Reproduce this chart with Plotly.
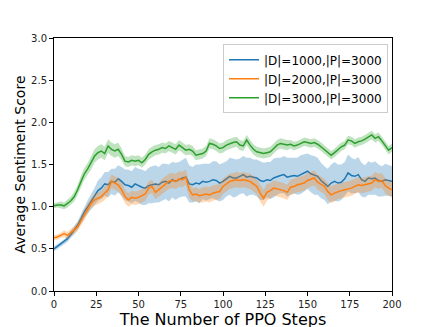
import plotly.graph_objects as go

# PPO steps (every 2 steps)
steps = list(range(0, 201, 2))

# |D|=1000,|P|=3000
d1000_mean = [0.50, 0.53, 0.55, 0.58, 0.62, 0.67, 0.72, 0.78, 0.86, 0.94,
              1.00, 1.06, 1.12, 1.19, 1.22, 1.27, 1.26, 1.30, 1.29, 1.33,
              1.30, 1.26, 1.25, 1.23, 1.27, 1.25, 1.23, 1.22, 1.25, 1.26,
              1.27, 1.26, 1.29, 1.30, 1.28, 1.32, 1.30, 1.32, 1.34, 1.35,
              1.27, 1.26, 1.28, 1.27, 1.30, 1.29, 1.30, 1.32, 1.31, 1.28,
              1.30, 1.33, 1.36, 1.34, 1.34, 1.36, 1.38, 1.35, 1.36, 1.35,
              1.34, 1.31, 1.30, 1.32, 1.31, 1.34, 1.36, 1.37, 1.38, 1.35,
              1.36, 1.37, 1.36, 1.38, 1.40, 1.42, 1.39, 1.37, 1.36, 1.31,
              1.28, 1.24, 1.28, 1.30, 1.28, 1.29, 1.33, 1.40, 1.37, 1.36,
              1.38, 1.32, 1.30, 1.34, 1.33, 1.34, 1.31, 1.30, 1.32, 1.31,
              1.30]
d1000_std = [0.03, 0.03, 0.03, 0.03, 0.04, 0.04, 0.05, 0.05, 0.06, 0.07,
             0.08, 0.09, 0.10, 0.12, 0.13, 0.14, 0.15, 0.15, 0.16, 0.16,
             0.17, 0.18, 0.19, 0.19, 0.20, 0.20, 0.21, 0.20, 0.21, 0.22,
             0.22, 0.21, 0.22, 0.21, 0.22, 0.21, 0.22, 0.21, 0.22, 0.23,
             0.22, 0.21, 0.22, 0.23, 0.21, 0.22, 0.21, 0.22, 0.23, 0.22,
             0.22, 0.21, 0.22, 0.23, 0.22, 0.21, 0.22, 0.23, 0.22, 0.21,
             0.22, 0.23, 0.22, 0.21, 0.22, 0.23, 0.22, 0.21, 0.22, 0.23,
             0.22, 0.21, 0.22, 0.23, 0.22, 0.21, 0.22, 0.23, 0.22, 0.21,
             0.20, 0.21, 0.22, 0.23, 0.22, 0.21, 0.20, 0.22, 0.21, 0.20,
             0.21, 0.20, 0.19, 0.20, 0.19, 0.20, 0.19, 0.18, 0.19, 0.18,
             0.18]

# |D|=2000,|P|=3000
d2000_mean = [0.63, 0.64, 0.66, 0.68, 0.66, 0.69, 0.72, 0.76, 0.83, 0.90,
              0.98, 1.04, 1.08, 1.10, 1.12, 1.16, 1.20, 1.30, 1.28, 1.26,
              1.20, 1.12, 1.08, 1.11, 1.10, 1.11, 1.13, 1.15, 1.22, 1.24,
              1.17, 1.20, 1.24, 1.27, 1.30, 1.31, 1.30, 1.33, 1.32, 1.35,
              1.20, 1.14, 1.15, 1.13, 1.14, 1.15, 1.14, 1.16, 1.17, 1.18,
              1.24, 1.27, 1.30, 1.31, 1.32, 1.31, 1.32, 1.31, 1.30, 1.27,
              1.24, 1.16, 1.10, 1.17, 1.19, 1.22, 1.21, 1.20, 1.19, 1.17,
              1.23, 1.24, 1.26, 1.27, 1.28, 1.31, 1.33, 1.34, 1.29, 1.26,
              1.24, 1.18, 1.14, 1.16, 1.18, 1.19, 1.20, 1.21, 1.22, 1.24,
              1.26, 1.25, 1.26, 1.27, 1.28, 1.32, 1.30, 1.31, 1.25, 1.22,
              1.20]
d2000_std = [0.03, 0.03, 0.03, 0.04, 0.04, 0.04, 0.05, 0.05, 0.05, 0.06,
             0.06, 0.06, 0.07, 0.07, 0.07, 0.08, 0.08, 0.08, 0.08, 0.08,
             0.08, 0.08, 0.08, 0.08, 0.08, 0.08, 0.08, 0.08, 0.08, 0.08,
             0.08, 0.08, 0.09, 0.09, 0.09, 0.09, 0.09, 0.09, 0.09, 0.09,
             0.09, 0.08, 0.08, 0.08, 0.09, 0.09, 0.09, 0.09, 0.09, 0.09,
             0.09, 0.09, 0.09, 0.09, 0.09, 0.09, 0.09, 0.09, 0.09, 0.09,
             0.09, 0.10, 0.10, 0.10, 0.09, 0.09, 0.09, 0.09, 0.09, 0.09,
             0.09, 0.09, 0.09, 0.09, 0.09, 0.09, 0.09, 0.09, 0.09, 0.09,
             0.09, 0.10, 0.10, 0.10, 0.09, 0.09, 0.09, 0.09, 0.09, 0.09,
             0.09, 0.09, 0.09, 0.09, 0.09, 0.09, 0.09, 0.09, 0.09, 0.09,
             0.09]

# |D|=3000,|P|=3000
d3000_mean = [1.01, 1.02, 1.02, 1.01, 1.04, 1.07, 1.12, 1.20, 1.30, 1.39,
              1.45, 1.52, 1.60, 1.64, 1.66, 1.63, 1.72, 1.68, 1.66, 1.68,
              1.62, 1.54, 1.53, 1.55, 1.54, 1.55, 1.52, 1.56, 1.62, 1.65,
              1.67, 1.68, 1.70, 1.69, 1.72, 1.70, 1.68, 1.73, 1.70, 1.67,
              1.68, 1.66, 1.61, 1.62, 1.63, 1.66, 1.75, 1.74, 1.72, 1.69,
              1.70, 1.73, 1.75, 1.76, 1.77, 1.73, 1.72, 1.79, 1.73, 1.68,
              1.65, 1.64, 1.63, 1.64, 1.65, 1.69, 1.73, 1.75, 1.74, 1.73,
              1.74, 1.72, 1.73, 1.75, 1.77, 1.76, 1.75, 1.76, 1.74, 1.71,
              1.68, 1.65, 1.61, 1.64, 1.68, 1.71, 1.73, 1.79, 1.78, 1.75,
              1.77, 1.78, 1.80, 1.83, 1.85, 1.81, 1.83, 1.78, 1.73, 1.67,
              1.70]
d3000_std = [0.03, 0.03, 0.04, 0.04, 0.05, 0.05, 0.06, 0.06, 0.07, 0.07,
             0.07, 0.08, 0.08, 0.08, 0.08, 0.08, 0.08, 0.08, 0.08, 0.08,
             0.07, 0.06, 0.06, 0.06, 0.06, 0.06, 0.06, 0.06, 0.06, 0.06,
             0.06, 0.06, 0.06, 0.06, 0.06, 0.06, 0.06, 0.06, 0.06, 0.06,
             0.06, 0.06, 0.06, 0.06, 0.06, 0.06, 0.06, 0.06, 0.06, 0.06,
             0.06, 0.06, 0.06, 0.06, 0.06, 0.06, 0.06, 0.06, 0.06, 0.06,
             0.06, 0.06, 0.06, 0.06, 0.06, 0.06, 0.06, 0.06, 0.06, 0.06,
             0.05, 0.05, 0.05, 0.05, 0.05, 0.05, 0.05, 0.05, 0.05, 0.05,
             0.05, 0.05, 0.05, 0.05, 0.05, 0.05, 0.05, 0.05, 0.05, 0.05,
             0.05, 0.05, 0.05, 0.05, 0.05, 0.05, 0.05, 0.05, 0.05, 0.05,
             0.05]

series = [
    ("|D|=1000,|P|=3000", d1000_mean, d1000_std, "#1f77b4", "rgba(31,119,180,0.3)"),
    ("|D|=2000,|P|=3000", d2000_mean, d2000_std, "#ff7f0e", "rgba(255,127,14,0.3)"),
    ("|D|=3000,|P|=3000", d3000_mean, d3000_std, "#2ca02c", "rgba(44,160,44,0.3)"),
]

fig = go.Figure()

for name, mean, std, color, fill in series:
    upper = [m + s for m, s in zip(mean, std)]
    lower = [m - s for m, s in zip(mean, std)]
    fig.add_trace(go.Scatter(x=steps, y=upper, mode="lines", line=dict(width=0),
                             showlegend=False, hoverinfo="skip"))
    fig.add_trace(go.Scatter(x=steps, y=lower, mode="lines", line=dict(width=0),
                             fill="tonexty", fillcolor=fill,
                             showlegend=False, hoverinfo="skip"))
    fig.add_trace(go.Scatter(x=steps, y=mean, mode="lines", name=name,
                             line=dict(color=color, width=1.5)))

axis_style = dict(
    showline=True, linecolor="black", linewidth=1, mirror=True,
    ticks="outside", ticklen=4, tickcolor="black",
    showgrid=False, zeroline=False, automargin=False,
    tickfont=dict(size=10, color="#222"),
)

# the page body adds an 8px offset, margins are set so the plot lands where the original is
fig.update_layout(
    width=428, height=327,
    paper_bgcolor="white", plot_bgcolor="white",
    font=dict(family="DejaVu Sans", color="black"),
    margin=dict(l=46, r=44, t=30, b=44),
    xaxis=dict(range=[0, 200], tickvals=[0, 25, 50, 75, 100, 125, 150, 175, 200],
               title=dict(text="The Number of PPO Steps", font=dict(size=16), standoff=1),
               **axis_style),
    yaxis=dict(range=[0, 3], tickvals=[0, 0.5, 1, 1.5, 2, 2.5, 3], tickformat=".1f",
               title=dict(text="Average Sentiment Score", font=dict(size=14), standoff=2),
               **axis_style),
    legend=dict(x=0.5, y=0.975, xanchor="left", yanchor="top",
                bgcolor="white", bordercolor="#cccccc", borderwidth=1,
                font=dict(size=12), tracegroupgap=0, traceorder="normal"),
    showlegend=True,
)

fig.write_html("out.html")
